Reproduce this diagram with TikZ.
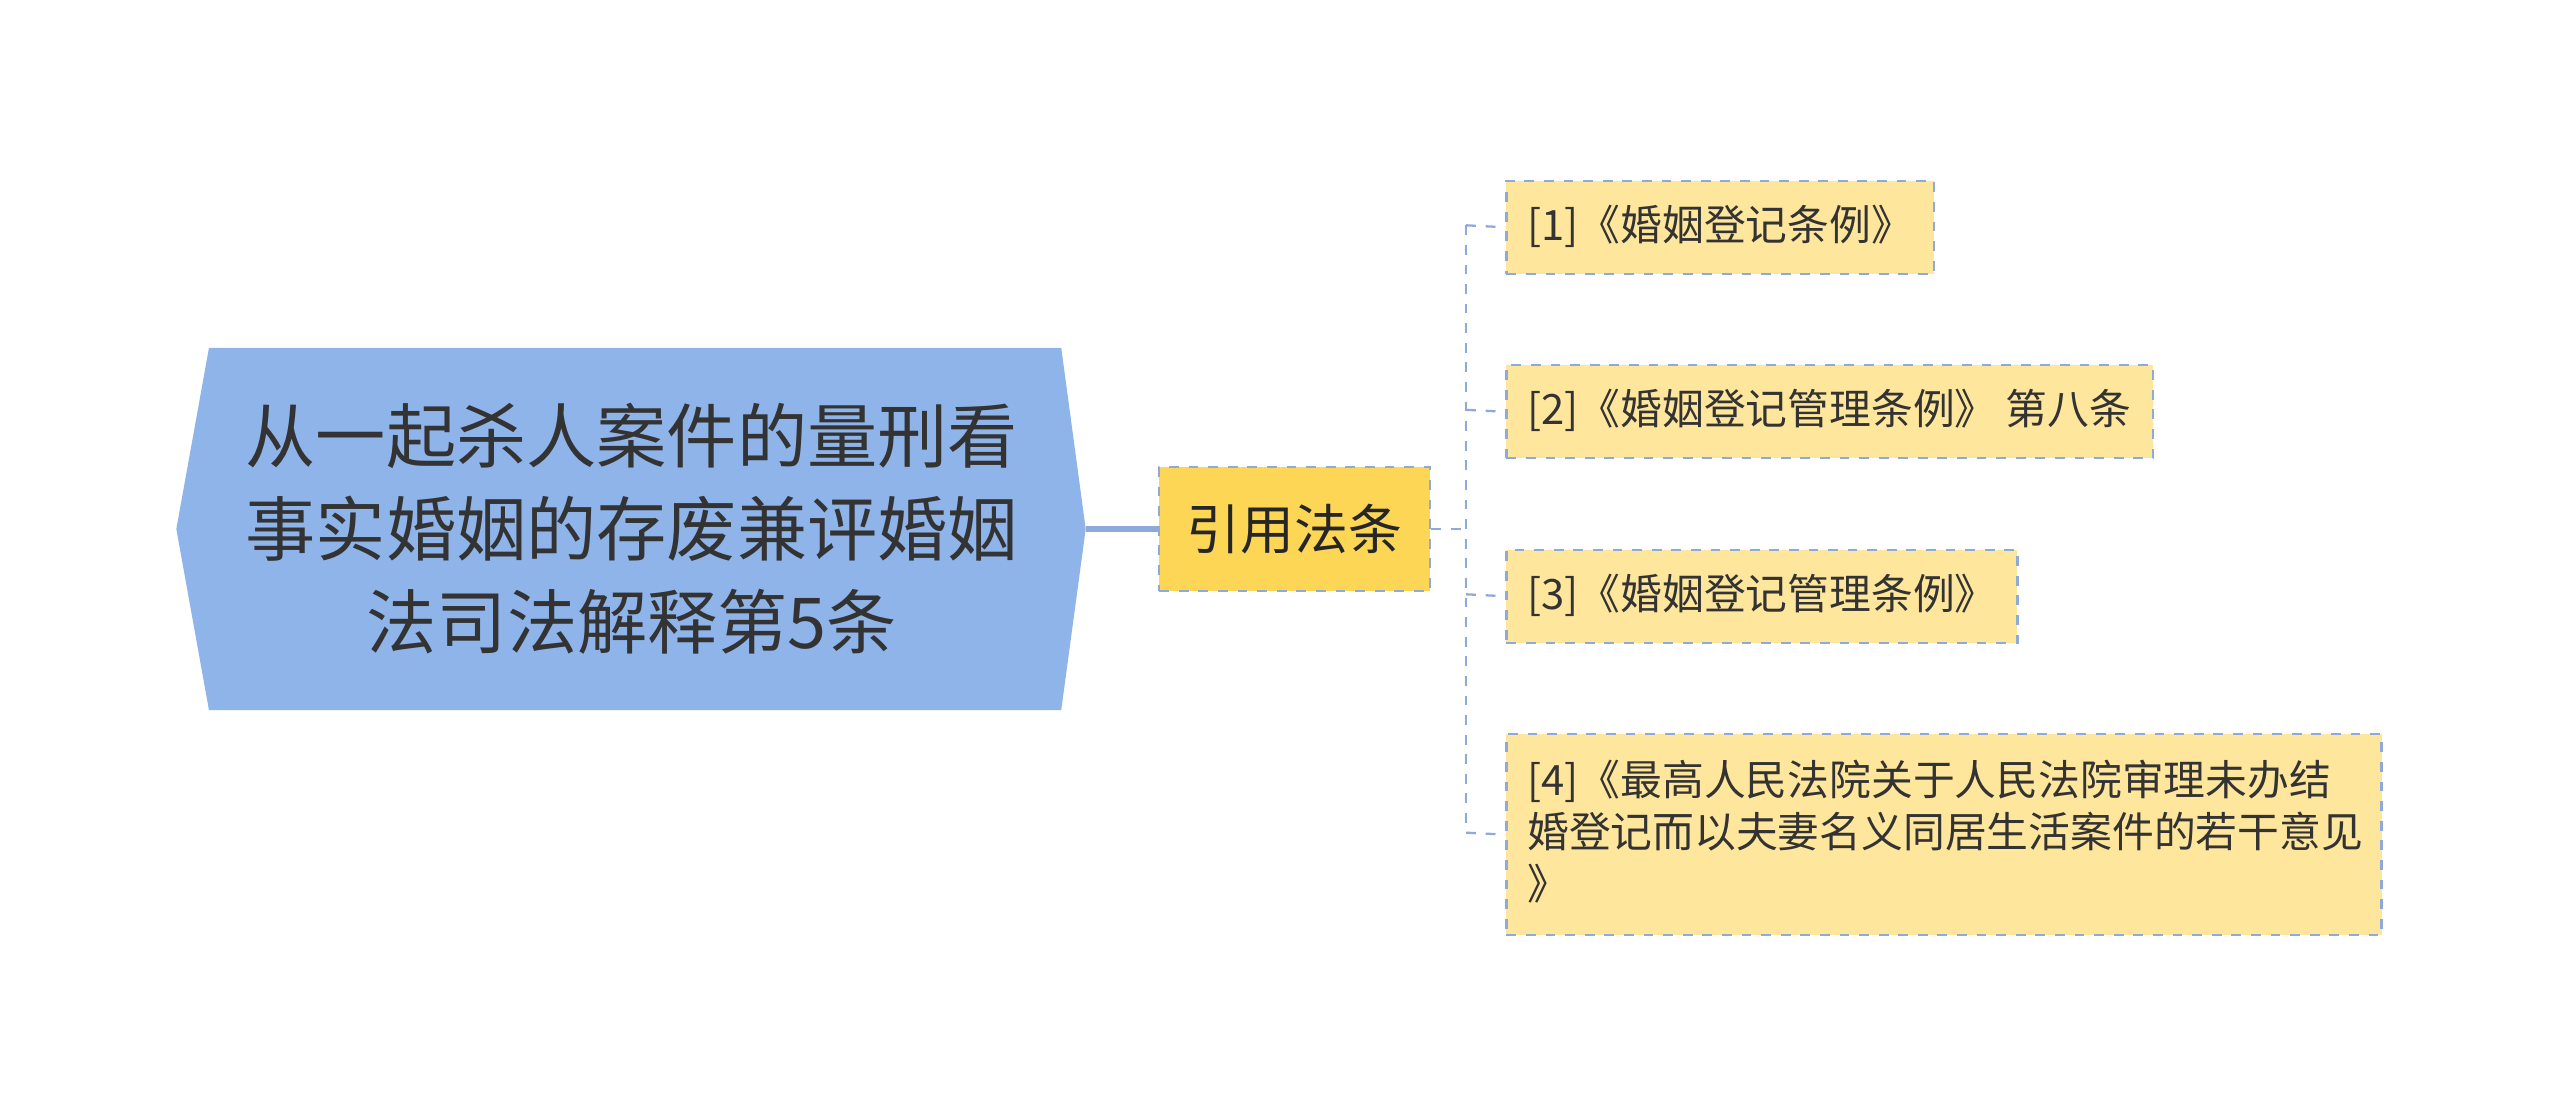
\documentclass[tikz,border=0pt]{standalone}
\usepackage{fontspec}
\setmainfont{Noto Sans CJK SC}
\begin{document}
\begin{tikzpicture}[x=0.5pt,y=-0.5pt,
  child/.style={dashed,line width=0.7pt,anchor=north west,inner sep=0pt}]
\definecolor{rootc}{HTML}{8EB4EA}
\definecolor{midc}{HTML}{FDD655}
\definecolor{chc}{HTML}{FEE69C}
\definecolor{lnc}{HTML}{8EAADB}
\useasboundingbox (0,0) rectangle (1568,682);
\fill[rootc] (108,324) -- (128,213) -- (650,213) -- (665,324) -- (650,435) -- (128,435) -- cycle;
\node (root) at (387,324) [align=center,font=\fontsize{21.5}{28.5}\selectfont,text=black!80] {从一起杀人案件的量刑看\\事实婚姻的存废兼评婚姻\\法司法解释第5条};
\coordinate (rr) at (665,324);
\node (mid) [draw=lnc,dashed,line width=0.7pt,fill=midc,minimum width=83pt,minimum height=38pt,font=\fontsize{16.5}{18}\selectfont,text=black!85] at (793,324) {引用法条};
\draw[lnc,line width=1.6pt] (rr) -- (mid.west);
\foreach \n/\y/\w/\h/\t in {a/110/262/57/{[1]《婚姻登记条例》},b/223/396/57/{[2]《婚姻登记管理条例》 第八条},c/336/313/57/{[3]《婚姻登记管理条例》}} {
  \node[child,draw=lnc,fill=chc,minimum width=\w*0.5pt,minimum height=\h*0.5pt] (\n) at (922,\y) {};
  \node[anchor=west,inner xsep=0pt,font=\fontsize{12.8}{16}\selectfont,text=black!80] at (935,\y+\h/2) {\t};
}
\node[child,draw=lnc,fill=chc,minimum width=268pt,minimum height=61.5pt] (d) at (922,449) {};
\node[anchor=north west,inner xsep=0pt,inner ysep=0pt,align=left,font=\fontsize{12.8}{16}\selectfont,text=black!80] at (935,465) {[4]《最高人民法院关于人民法院审理未办结\\婚登记而以夫妻名义同居生活案件的若干意见\\》};
\coordinate (j) at (898,324);
\draw[lnc,dashed,line width=0.7pt] (mid.east) -- (j);
\draw[lnc,dashed,line width=0.7pt] (898,138) -- (898,510);
\draw[lnc,dashed,line width=0.7pt] (898,138) -- (a.west);
\draw[lnc,dashed,line width=0.7pt] (898,251) -- (b.west);
\draw[lnc,dashed,line width=0.7pt] (898,364) -- (c.west);
\draw[lnc,dashed,line width=0.7pt] (898,510) -- (d.west);
\end{tikzpicture}
\end{document}
